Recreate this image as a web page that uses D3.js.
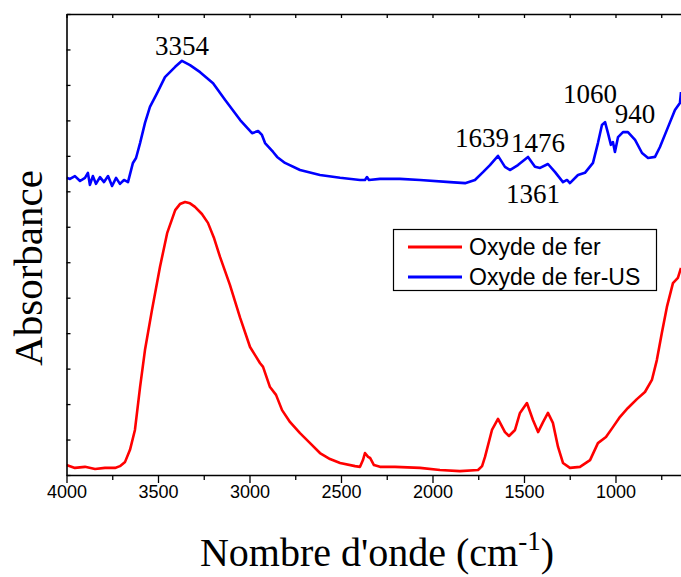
<!DOCTYPE html>
<html><head><meta charset="utf-8">
<script src="https://cdn.jsdelivr.net/npm/d3@7"></script>
<style>body{margin:0;background:#fff}svg{display:block}</style>
</head><body>
<svg id="c" width="681" height="577"></svg>
<script>
// Wavenumbers (cm-1) and absorbance (a.u.)
const redWave = [4000,3954,3899,3844,3790,3735,3708,3680,3653,3626,3598,3571,3533,3489,3450,3406,3380,3352,3325,3298,3260,3227,3195,3161,3107,3051,2997,2943,2926,2888,2855,2822,2778,2724,2669,2615,2560,2505,2423,2396,2380,2369,2352,2341,2320,2287,2205,2068,1959,1850,1751,1729,1713,1675,1642,1604,1582,1549,1522,1484,1451,1423,1396,1369,1342,1314,1287,1249,1194,1139,1096,1052,1014,975,932,883,839,801,774,747,719,686,659,642];
const redAbs = [0.28,0.20,0.23,0.17,0.20,0.20,0.25,0.37,0.71,1.27,2.48,3.53,4.65,5.87,6.82,7.47,7.64,7.70,7.66,7.56,7.36,7.11,6.70,6.15,5.36,4.43,3.61,3.16,3.05,2.48,2.26,1.83,1.49,1.18,0.90,0.62,0.45,0.34,0.25,0.23,0.42,0.62,0.51,0.48,0.28,0.23,0.23,0.20,0.14,0.11,0.14,0.25,0.51,1.27,1.58,1.21,1.10,1.27,1.75,2.03,1.55,1.21,1.49,1.75,1.47,0.79,0.34,0.20,0.23,0.42,0.90,1.07,1.35,1.64,1.89,2.14,2.34,2.68,3.24,4.00,4.74,5.41,5.56,5.84];
const blueWave = [4000,3981,3954,3926,3899,3883,3872,3856,3839,3817,3795,3773,3751,3729,3708,3686,3664,3637,3620,3598,3571,3544,3505,3462,3406,3369,3325,3270,3199,3134,3051,2986,2953,2932,2915,2871,2849,2806,2724,2615,2505,2396,2369,2358,2347,2287,2178,2068,1904,1822,1768,1724,1686,1642,1604,1577,1533,1478,1440,1412,1369,1330,1287,1265,1249,1205,1167,1123,1096,1074,1057,1041,1025,1014,1003,986,959,932,893,855,822,784,757,713,675,648,642];
const blueAbs = [8.38,8.35,8.43,8.29,8.38,8.52,8.18,8.43,8.21,8.40,8.26,8.43,8.15,8.38,8.21,8.32,8.26,8.80,8.94,9.36,9.93,10.38,10.77,11.22,11.51,11.68,11.56,11.36,11.05,10.58,10.01,9.64,9.70,9.59,9.36,9.11,8.97,8.80,8.60,8.46,8.38,8.32,8.32,8.40,8.32,8.35,8.35,8.32,8.26,8.23,8.32,8.54,8.74,9.00,8.69,8.60,8.74,8.97,8.69,8.66,8.77,8.54,8.26,8.32,8.23,8.46,8.52,8.80,9.36,9.87,9.95,9.64,9.31,9.39,9.11,9.53,9.67,9.67,9.45,9.08,8.94,8.97,9.25,9.81,10.29,10.49,10.80];
const seriesNames = ["Oxyde de fer","Oxyde de fer-US"];
const seriesColors = ["#ff0000","#0000ff"];
const majorTicks = [4000,3500,3000,2500,2000,1500,1000];
const minorTicks = [3750,3250,2750,2250,1750,1250,750];
const yTicks = [0,1,2,3,4,5,6,7,8,9,10,11,12,13];
// peak annotations: text, and where the text sits (wavenumber, absorbance of baseline)
const peakLabels = ["3354","1639","1476","1361","1060","940"];
const labelWave = [3369,1730,1424,1451,1139,893];
const labelAbs = [11.84,9.25,9.11,7.67,10.49,9.93];

const svg = d3.select("#c");
const L=66.5, R=681, T=14, B=475;
const x = d3.scaleLinear().domain([4000,642]).range([L,R]);
const y = d3.scaleLinear().domain([0,13]).range([B,T]);

svg.append("defs").append("clipPath").attr("id","clip")
  .append("rect").attr("x",L).attr("y",T).attr("width",R-L).attr("height",B-T);

const line = d3.line().x(d=>x(d[0])).y(d=>y(d[1]));
const g = svg.append("g").attr("clip-path","url(#clip)");
g.append("path").datum(redWave.map((w,i)=>[w,redAbs[i]]))
  .attr("d",line).attr("fill","none").attr("stroke",seriesColors[0]).attr("stroke-width",2.6).attr("stroke-linejoin","round");
g.append("path").datum(blueWave.map((w,i)=>[w,blueAbs[i]]))
  .attr("d",line).attr("fill","none").attr("stroke",seriesColors[1]).attr("stroke-width",2.6).attr("stroke-linejoin","round");

function styleAxis(sel){
  sel.selectAll("path").attr("stroke","#000").attr("stroke-width",1.6);
  sel.selectAll("line").attr("stroke","#000").attr("stroke-width",1.3);
}
// bottom axis
const bx = svg.append("g").attr("transform",`translate(0,${B})`)
  .call(d3.axisBottom(x).tickValues(majorTicks).tickSize(8).tickSizeOuter(0).tickFormat(d3.format("d")));
styleAxis(bx);
bx.selectAll("text").attr("font-family","Liberation Sans, Arial, sans-serif").attr("font-size",18).attr("fill","#000").attr("dy","0.4em").attr("y",16);
const bxm = svg.append("g").attr("transform",`translate(0,${B})`)
  .call(d3.axisBottom(x).tickValues(minorTicks).tickSize(5).tickSizeOuter(0).tickFormat(""));
styleAxis(bxm); bxm.select("path").remove();
// top axis
const tx = svg.append("g").attr("transform",`translate(0,${T})`)
  .call(d3.axisBottom(x).tickValues(majorTicks.concat(minorTicks)).tickSize(4).tickSizeOuter(0).tickFormat(""));
styleAxis(tx);
// left axis
const ly = svg.append("g").attr("transform",`translate(${L},0)`)
  .call(d3.axisRight(y).tickValues(yTicks).tickSize(4).tickSizeOuter(0).tickFormat(""));
styleAxis(ly);

// peak labels
svg.append("g").selectAll("text").data(peakLabels).join("text")
  .attr("x",(d,i)=>x(labelWave[i])).attr("y",(d,i)=>y(labelAbs[i]))
  .attr("text-anchor","middle").attr("font-family","Liberation Serif, Times New Roman, serif")
  .attr("font-size",27).attr("fill","#000").text(d=>d);

// axis titles
const xt = svg.append("text").attr("x",377).attr("y",566).attr("text-anchor","middle")
  .attr("font-family","Liberation Serif, Times New Roman, serif").attr("font-size",40).attr("fill","#000");
xt.append("tspan").text("Nombre d'onde (cm");
xt.append("tspan").attr("font-size",27).attr("dy",-16).text("-1");
xt.append("tspan").attr("dy",16).text(")");
svg.append("text").attr("transform","translate(42,268) rotate(-90)").attr("text-anchor","middle")
  .attr("font-family","Liberation Serif, Times New Roman, serif").attr("font-size",41).attr("fill","#000").text("Absorbance");

// legend
const lg = svg.append("g");
lg.append("rect").attr("x",393.5).attr("y",229.5).attr("width",263).attr("height",61)
  .attr("fill","#fff").attr("stroke","#000").attr("stroke-width",1.2);
seriesNames.forEach((n,i)=>{
  const yy = 247 + i*30;
  lg.append("line").attr("x1",408).attr("x2",462).attr("y1",yy).attr("y2",yy)
    .attr("stroke",seriesColors[i]).attr("stroke-width",3);
  lg.append("text").attr("x",469).attr("y",yy+8).attr("font-family","Liberation Sans, Arial, sans-serif")
    .attr("font-size",23).attr("fill","#000").text(n);
});
</script>
</body></html>
